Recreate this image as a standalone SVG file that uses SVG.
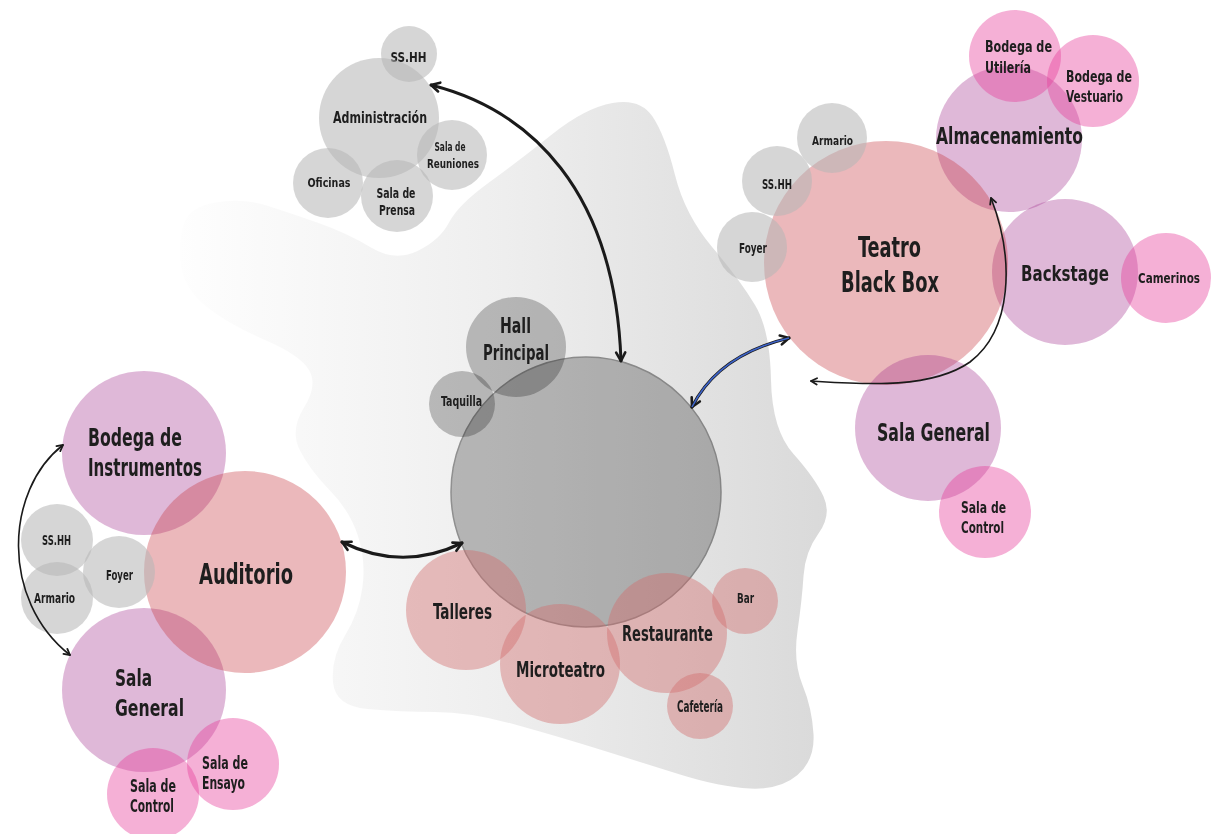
<svg xmlns="http://www.w3.org/2000/svg" width="1211" height="834" viewBox="0 0 1211 834">
<defs>
<linearGradient id="blobg" x1="178" y1="0" x2="832" y2="0" gradientUnits="userSpaceOnUse">
<stop offset="0" stop-color="#fefefe"/><stop offset="0.5" stop-color="#eeeeee"/><stop offset="1" stop-color="#d9d9d9"/>
</linearGradient>
<marker id="ah" viewBox="0 0 10 10" refX="8" refY="5" markerWidth="13" markerHeight="13" markerUnits="userSpaceOnUse" orient="auto-start-reverse">
<path d="M1.5,1.5 L8,5 L1.5,8.5" fill="none" stroke="#1a1a1a" stroke-width="2" stroke-linecap="round" stroke-linejoin="round"/>
</marker>
<marker id="ahs" viewBox="0 0 10 10" refX="8" refY="5" markerWidth="9" markerHeight="9" markerUnits="userSpaceOnUse" orient="auto-start-reverse">
<path d="M1.5,1.5 L8,5 L1.5,8.5" fill="none" stroke="#1a1a1a" stroke-width="2" stroke-linecap="round" stroke-linejoin="round"/>
</marker>
<style>
.g{fill:#b6b6b6;fill-opacity:.56}
.p{fill:#c6343d;fill-opacity:.35}
.v{fill:#a43490;fill-opacity:.35}
.m{fill:#e63998;fill-opacity:.4}
.r{fill:#d26b6b;fill-opacity:.42}
.mg{fill:#c2c2c2;mix-blend-mode:multiply}
text{font-family:"DejaVu Sans Condensed","DejaVu Sans",sans-serif;font-weight:bold;font-stretch:condensed;fill:#1e1e1e;text-anchor:middle}
text.s{text-anchor:start}
.a{fill:none;stroke:#1a1a1a;stroke-linecap:round}
</style>
</defs>
<rect width="1211" height="834" fill="#ffffff"/>
<path id="blob" fill="url(#blobg)" d="M181.5,267.5 Q178,245 183,226 Q188,207 215.5,202.5 Q243,198 266.5,205.5 Q290,213 318.5,223 Q347,233 371,247.5 Q395,262 417.5,251 Q440,240 449,222.5 Q458,205 489,182.5 Q520,160 552.5,134 Q585,108 612.5,103 Q640,98 652.5,116.5 Q665,135 675,175 Q685,215 712.5,247.5 Q740,280 755,305 Q770,330 771,380 Q772,430 793.5,454 Q815,478 823.5,496.5 Q832,515 818.5,533.5 Q805,552 803.5,576 Q802,600 797.5,631 Q793,662 802.5,685 Q812,708 813.5,734 Q815,760 797.5,775 Q780,790 750,788.5 Q720,787 680,774.5 Q640,762 600,749.5 Q560,737 515,724.5 Q470,712 435,712 Q400,712 367.5,709 Q335,706 333,682 Q331,658 345,635.5 Q359,613 362.5,587 Q366,561 358,536 Q350,511 329.5,490 Q309,469 299.5,449.5 Q290,430 304,407.5 Q318,385 309,370 Q300,355 265,340 Q230,325 207.5,307.5 Q185,290 181.5,267.5 Z"/>

<!-- Administración cluster -->
<g id="admin-sshh"><circle class="g" cx="409" cy="54" r="28"/><text x="408.5" y="62" font-size="14" textLength="36" lengthAdjust="spacingAndGlyphs">SS.HH</text></g>
<g id="administracion"><circle class="g" cx="379" cy="118" r="60"/><text x="380" y="123" font-size="16" textLength="94" lengthAdjust="spacingAndGlyphs">Administración</text></g>
<g id="sala-reuniones"><circle class="g" cx="452" cy="155" r="35"/><text x="450" y="151" font-size="12.5" textLength="31" lengthAdjust="spacingAndGlyphs">Sala de</text><text x="453" y="168" font-size="12.5" textLength="52" lengthAdjust="spacingAndGlyphs">Reuniones</text></g>
<g id="oficinas"><circle class="g" cx="328" cy="183" r="35"/><text x="329" y="187" font-size="12.5" textLength="43" lengthAdjust="spacingAndGlyphs">Oficinas</text></g>
<g id="sala-prensa"><circle class="g" cx="397" cy="196" r="36"/><text x="396" y="198" font-size="13.5" textLength="39" lengthAdjust="spacingAndGlyphs">Sala de</text><text x="397" y="215" font-size="13.5" textLength="36" lengthAdjust="spacingAndGlyphs">Prensa</text></g>

<!-- Teatro Black Box cluster -->
<g id="almacenamiento"><circle class="v" cx="1009" cy="139" r="73"/><text x="1009.5" y="144" font-size="23" textLength="147" lengthAdjust="spacingAndGlyphs">Almacenamiento</text></g>
<g id="bodega-utileria"><circle class="m" cx="1015" cy="56" r="46"/><text class="s" x="985" y="52" font-size="16" textLength="67" lengthAdjust="spacingAndGlyphs">Bodega de</text><text class="s" x="985" y="73" font-size="16" textLength="46" lengthAdjust="spacingAndGlyphs">Utilería</text></g>
<g id="bodega-vestuario"><circle class="m" cx="1093" cy="81" r="46"/><text class="s" x="1066" y="82" font-size="16" textLength="66" lengthAdjust="spacingAndGlyphs">Bodega de</text><text class="s" x="1066" y="102" font-size="16" textLength="57" lengthAdjust="spacingAndGlyphs">Vestuario</text></g>
<g id="backstage"><circle class="v" cx="1065" cy="272" r="73"/><text x="1065" y="281" font-size="21.5" textLength="88" lengthAdjust="spacingAndGlyphs">Backstage</text></g>
<g id="camerinos"><circle class="m" cx="1166" cy="278" r="45"/><text x="1169" y="283" font-size="13.5" textLength="62" lengthAdjust="spacingAndGlyphs">Camerinos</text></g>
<g id="teatro-black-box"><circle class="p" cx="886" cy="263" r="122"/><text x="889.5" y="257" font-size="28" textLength="63" lengthAdjust="spacingAndGlyphs">Teatro</text><text x="890" y="292" font-size="28" textLength="98" lengthAdjust="spacingAndGlyphs">Black Box</text></g>
<g id="tbb-armario"><circle class="g" cx="832" cy="138" r="35"/><text x="832.5" y="145" font-size="13" textLength="41" lengthAdjust="spacingAndGlyphs">Armario</text></g>
<g id="tbb-sshh"><circle class="g" cx="777" cy="181" r="35"/><text x="777" y="189" font-size="13.5" textLength="30" lengthAdjust="spacingAndGlyphs">SS.HH</text></g>
<g id="tbb-foyer"><circle class="g" cx="752" cy="247" r="35"/><text x="753" y="253" font-size="13.5" textLength="28" lengthAdjust="spacingAndGlyphs">Foyer</text></g>
<g id="tbb-sala-general"><circle class="v" cx="928" cy="428" r="73"/><text x="933.5" y="441" font-size="24" textLength="113" lengthAdjust="spacingAndGlyphs">Sala General</text></g>
<g id="tbb-sala-control"><circle class="m" cx="985" cy="512" r="46"/><text x="983.5" y="513" font-size="16" textLength="45" lengthAdjust="spacingAndGlyphs">Sala de</text><text x="982.5" y="533" font-size="16" textLength="43" lengthAdjust="spacingAndGlyphs">Control</text></g>

<!-- Auditorio cluster -->
<g id="bodega-instrumentos"><circle class="v" cx="144" cy="453" r="82"/><text class="s" x="88" y="446" font-size="25" textLength="94" lengthAdjust="spacingAndGlyphs">Bodega de</text><text class="s" x="88" y="476" font-size="25" textLength="114" lengthAdjust="spacingAndGlyphs">Instrumentos</text></g>
<g id="aud-sala-general"><circle class="v" cx="144" cy="690" r="82"/><text class="s" x="115" y="686" font-size="23" textLength="37" lengthAdjust="spacingAndGlyphs">Sala</text><text class="s" x="115" y="716" font-size="23" textLength="69" lengthAdjust="spacingAndGlyphs">General</text></g>
<g id="auditorio"><circle class="p" cx="245" cy="572" r="101"/><text x="246" y="584" font-size="28" textLength="94" lengthAdjust="spacingAndGlyphs">Auditorio</text></g>
<g id="aud-sshh"><circle class="g" cx="57" cy="540" r="36"/><text x="56.5" y="545" font-size="14" textLength="29" lengthAdjust="spacingAndGlyphs">SS.HH</text></g>
<g id="aud-armario"><circle class="g" cx="57" cy="598" r="36"/><text x="54.5" y="603" font-size="13.5" textLength="41" lengthAdjust="spacingAndGlyphs">Armario</text></g>
<g id="aud-foyer"><circle class="g" cx="119" cy="572" r="36"/><text x="119.5" y="580" font-size="13.5" textLength="27" lengthAdjust="spacingAndGlyphs">Foyer</text></g>
<g id="sala-ensayo"><circle class="m" cx="233" cy="764" r="46"/><text class="s" x="202" y="769" font-size="17" textLength="46" lengthAdjust="spacingAndGlyphs">Sala de</text><text class="s" x="202" y="789" font-size="17" textLength="43" lengthAdjust="spacingAndGlyphs">Ensayo</text></g>
<g id="aud-sala-control"><circle class="m" cx="153" cy="794" r="46"/><text class="s" x="130" y="792" font-size="17" textLength="46" lengthAdjust="spacingAndGlyphs">Sala de</text><text class="s" x="130" y="812" font-size="17" textLength="44" lengthAdjust="spacingAndGlyphs">Control</text></g>

<!-- Central cluster -->
<g id="hall-principal"><circle class="mg" cx="516" cy="347" r="50"/><text x="515.5" y="333" font-size="21" textLength="31" lengthAdjust="spacingAndGlyphs">Hall</text><text x="516" y="360" font-size="21" textLength="66" lengthAdjust="spacingAndGlyphs">Principal</text></g>
<g id="taquilla"><circle class="mg" cx="462" cy="404" r="33"/><text x="461.5" y="406" font-size="14" textLength="41" lengthAdjust="spacingAndGlyphs">Taquilla</text></g>
<g id="central"><circle cx="586" cy="492" r="135" fill="#c0c0c0" stroke="#989898" stroke-width="1.5" style="mix-blend-mode:multiply"/></g>
<g id="talleres"><circle class="r" cx="466" cy="610" r="60"/><text x="462.5" y="619" font-size="22" textLength="59" lengthAdjust="spacingAndGlyphs">Talleres</text></g>
<g id="microteatro"><circle class="r" cx="560" cy="664" r="60"/><text x="560.5" y="677" font-size="21" textLength="89" lengthAdjust="spacingAndGlyphs">Microteatro</text></g>
<g id="restaurante"><circle class="r" cx="667" cy="633" r="60"/><text x="667.5" y="641" font-size="21" textLength="91" lengthAdjust="spacingAndGlyphs">Restaurante</text></g>
<g id="bar"><circle class="r" cx="745" cy="601" r="33"/><text x="745.5" y="603" font-size="13.5" textLength="17" lengthAdjust="spacingAndGlyphs">Bar</text></g>
<g id="cafeteria"><circle class="r" cx="700" cy="706" r="33"/><text x="700" y="712" font-size="15" textLength="46" lengthAdjust="spacingAndGlyphs">Cafetería</text></g>

<!-- Connectors -->
<g id="connectors">
<path class="a" d="M431,85 C530,110 615,190 621,361" stroke-width="3" marker-start="url(#ah)" marker-end="url(#ah)"/>
<path class="a" d="M342,542 Q402,572 462,543" stroke-width="3.2" marker-start="url(#ah)" marker-end="url(#ah)"/>
<path class="a" d="M63,445 C5,490 0,600 70,655" stroke-width="1.6" marker-start="url(#ahs)" marker-end="url(#ahs)"/>
<path class="a" d="M991,198 C1015,260 1012,330 970,362 C930,390 860,384 811,381" stroke-width="1.6" marker-start="url(#ahs)" marker-end="url(#ahs)"/>
<path class="a" d="M692,407 Q718,355 789,338" stroke-width="3.2" marker-start="url(#ah)" marker-end="url(#ah)"/>
<path d="M692,407 Q718,355 789,338" fill="none" stroke="#3d63c9" stroke-width="1.6"/>
</g>
</svg>
